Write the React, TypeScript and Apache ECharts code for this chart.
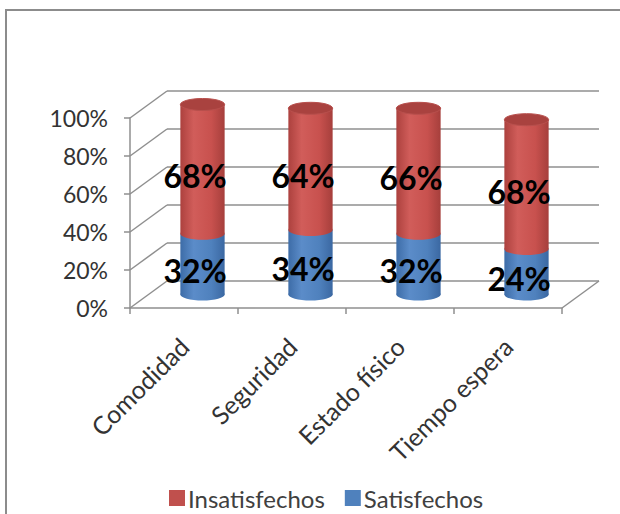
import React, { useEffect, useRef } from "react";
import * as echarts from "echarts";

const categories = ["Comodidad", "Seguridad", "Estado físico", "Tiempo espera"];
const satisfechos = [32, 34, 32, 24];
const insatisfechos = [68, 64, 66, 68];
const yTicks = [0, 20, 40, 60, 80, 100];

const DX = 37;
const DY = -27;
const FONT = "Lato, 'Open Sans', sans-serif";
const GRID_COLOR = "#8f8f8f";

const RED = "#C0504D";
const BLUE = "#4F81BD";

function grad(stops: string[]) {
  return new echarts.graphic.LinearGradient(0, 0, 1, 0, [
    { offset: 0, color: stops[0] },
    { offset: 0.3, color: stops[1] },
    { offset: 0.7, color: stops[2] },
    { offset: 1, color: stops[3] },
  ]);
}

function makeRenderer(kind: "blue" | "red") {
  return (params: any, api: any) => {
    const idx = api.value(0);
    const lo = api.value(1);
    const hi = api.value(2);
    const p0 = api.coord([idx, lo]);
    const p1 = api.coord([idx, hi]);
    const w = api.size([1, 0])[0] * 0.41;
    const rx = w / 2;
    const ry = 6;
    const cx = p0[0] + DX / 2;
    const yb = p0[1] + DY / 2;
    const yt = p1[1] + DY / 2;
    const body =
      kind === "red"
        ? grad(["#AC413E", "#D15D5A", "#C8514E", "#A63F3C"])
        : grad(["#3D6CA7", "#5B8CC9", "#4F81BD", "#3B68A2"]);
    const children: any[] = [
      { type: "ellipse", shape: { cx, cy: yb, rx, ry }, style: { fill: body } },
      { type: "rect", shape: { x: cx - rx, y: yt, width: w, height: yb - yt }, style: { fill: body } },
    ];
    if (kind === "red") {
      children.push({
        type: "ellipse",
        shape: { cx, cy: yt, rx, ry },
        style: { fill: "#A9423F", stroke: "#B8504D", lineWidth: 1 },
      });
    }
    children.push({
      type: "text",
      x: p0[0] + DX * 0.3,
      y: (p0[1] + p1[1]) / 2 + DY * 0.25,
      style: {
        text: Math.round(hi - lo) + "%",
        fill: "#000",
        fontSize: 32,
        fontWeight: "bold",
        fontFamily: FONT,
        align: "center",
        verticalAlign: "middle",
      },
    });
    return { type: "group", children };
  };
}

export default function App() {
  const ref = useRef<HTMLDivElement>(null);
  useEffect(() => {
    if (!ref.current) return;
    const chart = echarts.init(ref.current, null, { renderer: "svg" });
    const lineStyle = { stroke: GRID_COLOR, lineWidth: 1.5 };
    chart.setOption({
      animation: false,
      backgroundColor: "#fff",
      color: [RED, BLUE],
      graphic: [
        {
          type: "rect",
          silent: true,
          shape: { x: 6, y: 10, width: 800, height: 800 },
          style: { fill: "none", stroke: "#8c8c8c", lineWidth: 2 },
        },
      ],
      grid: { left: 130, right: 58, top: 118, bottom: 206 },
      legend: {
        data: ["Insatisfechos", "Satisfechos"],
        left: 164,
        top: 481,
        icon: "rect",
        itemWidth: 16,
        itemHeight: 16,
        itemGap: 20,
        itemStyle: { borderWidth: 0 },
        textStyle: { fontSize: 24, color: "#404040", fontFamily: FONT, padding: [0, 0, 0, -2] },
      },
      xAxis: {
        type: "category",
        data: categories,
        axisLine: { lineStyle: { color: GRID_COLOR, width: 1.5 } },
        axisTick: { show: true, length: 6, lineStyle: { color: GRID_COLOR, width: 1.5 } },
        axisLabel: {
          rotate: 45,
          margin: 34,
          fontSize: 25,
          color: "#333",
          fontFamily: FONT,
          interval: 0,
        },
        splitLine: { show: false },
      },
      yAxis: {
        type: "value",
        min: 0,
        max: 100,
        interval: 20,
        axisLine: { show: true, lineStyle: { color: GRID_COLOR, width: 1.5 } },
        axisTick: { show: true, length: 6, lineStyle: { color: GRID_COLOR, width: 1.5 } },
        axisLabel: {
          formatter: "{value}%",
          fontSize: 23,
          color: "#333",
          fontFamily: FONT,
          margin: 22,
        },
        splitLine: { show: false },
      },
      series: [
        {
          type: "custom",
          name: "walls",
          z: 1,
          clip: false,
          silent: true,
          data: yTicks.map((v) => [0, v]),
          renderItem: (params: any, api: any) => {
            const v = api.value(1);
            const cs = params.coordSys;
            const y = api.coord([0, v])[1];
            const xl = cs.x;
            const xr = cs.x + cs.width;
            const children: any[] = [
              { type: "line", shape: { x1: xl + DX, y1: y + DY, x2: xr + DX, y2: y + DY }, style: lineStyle },
              { type: "line", shape: { x1: xl, y1: y, x2: xl + DX, y2: y + DY }, style: lineStyle },
            ];
            if (v === 0) {
              children.push({ type: "line", shape: { x1: xr, y1: y, x2: xr + DX, y2: y + DY }, style: lineStyle });
            }
            return { type: "group", children };
          },
        },
        {
          type: "custom",
          name: "Satisfechos",
          z: 2,
          clip: false,
          itemStyle: { color: BLUE },
          data: categories.map((_, i) => [i, 0, satisfechos[i]]),
          renderItem: makeRenderer("blue"),
        },
        {
          type: "custom",
          name: "Insatisfechos",
          z: 3,
          clip: false,
          itemStyle: { color: RED },
          data: categories.map((_, i) => [i, satisfechos[i], satisfechos[i] + insatisfechos[i]]),
          renderItem: makeRenderer("red"),
        },
      ],
    });
    return () => chart.dispose();
  }, []);
  return (
    <div
      ref={ref}
      style={{ position: "absolute", left: 0, top: 0, width: 620, height: 514, background: "#fff" }}
    />
  );
}
